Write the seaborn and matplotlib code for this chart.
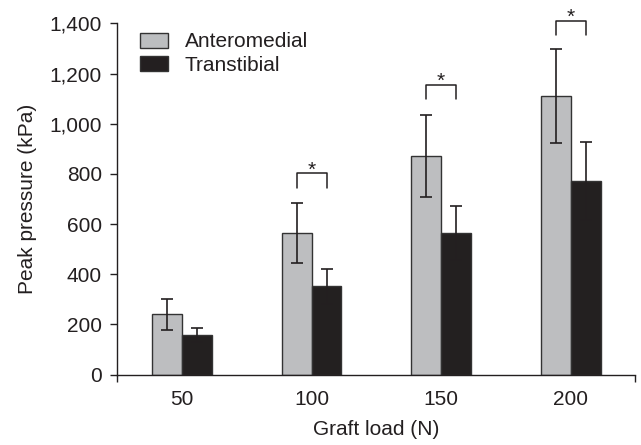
import numpy as np
import pandas as pd
import matplotlib
matplotlib.use('Agg')
import matplotlib.pyplot as plt
import seaborn as sns
from matplotlib.patches import Patch

# data
loads = ['50', '100', '150', '200']
techniques = ['Anteromedial', 'Transtibial']
anteromedial_mean = [240, 566, 871, 1112]
anteromedial_sd = [60, 120, 165, 187]
transtibial_mean = [158, 353, 564, 772]
transtibial_sd = [28, 70, 109, 155]
# significance brackets per load (None = not significant)
bracket_top = [None, 802, 1155, 1410]
bracket_leg = [None, 742, 1097, 1353]
y_ticks = [0, 200, 400, 600, 800, 1000, 1200, 1400]

GRAY = '#bcbec0'
BLACK = '#231f20'
EDGE = '#333333'
FS = 15

sns.set_style('ticks')
plt.rcParams['font.family'] = ['Liberation Sans', 'DejaVu Sans']
plt.rcParams['text.color'] = BLACK
plt.rcParams['axes.labelcolor'] = BLACK
plt.rcParams['xtick.color'] = BLACK
plt.rcParams['ytick.color'] = BLACK

df = pd.DataFrame({
    'load': loads * 2,
    'technique': [techniques[0]] * 4 + [techniques[1]] * 4,
    'pressure': anteromedial_mean + transtibial_mean,
})

fig = plt.figure(figsize=(6.41, 4.45), dpi=100)
ax = fig.add_axes([0.183, 0.158, 0.8084, 0.7896])

sns.barplot(data=df, x='load', y='pressure', hue='technique', order=loads,
            hue_order=techniques, palette=[GRAY, BLACK], width=0.46,
            errorbar=None, edgecolor=EDGE, linewidth=1.0, legend=False, ax=ax)

means = [anteromedial_mean, transtibial_mean]
sds = [anteromedial_sd, transtibial_sd]
centers = []
for cont, m, s in zip(ax.containers, means, sds):
    xs = [b.get_x() + b.get_width() / 2 for b in cont]
    centers.append(xs)
    ax.errorbar(xs, m, yerr=s, fmt='none', ecolor=BLACK, elinewidth=1.2,
                capsize=4.3, capthick=1.2, zorder=5)

# significance brackets
for i, (top, leg) in enumerate(zip(bracket_top, bracket_leg)):
    if top is None:
        continue
    x0, x1 = centers[0][i], centers[1][i]
    ax.plot([x0, x0, x1, x1], [leg, top, top, leg], color=BLACK, lw=1.1,
            clip_on=False)
    ax.text((x0 + x1) / 2, top - 8, '*', ha='center', va='baseline',
            fontsize=FS, clip_on=False)

ax.set_xlim(-0.5, 3.5)
ax.set_ylim(0, 1400)
ax.set_yticks(y_ticks)
ax.set_yticklabels([f'{v:,}' for v in y_ticks])
ax.set_xticks([-0.5, 3.5], minor=True)
ax.tick_params(axis='x', which='major', length=0, pad=11, labelsize=FS)
ax.tick_params(axis='x', which='minor', length=5, width=1.0, direction='out')
ax.tick_params(axis='y', length=5, width=1.0, pad=6, labelsize=FS)
sns.despine(ax=ax)
for sp in ['left', 'bottom']:
    ax.spines[sp].set_linewidth(1.0)
    ax.spines[sp].set_color(BLACK)

ax.set_xlabel('Graft load (N)', fontsize=FS, labelpad=8)
ax.set_ylabel('Peak pressure (kPa)', fontsize=FS, labelpad=9)

handles = [Patch(facecolor=GRAY, edgecolor=EDGE, linewidth=1.0),
           Patch(facecolor=BLACK, edgecolor=EDGE, linewidth=1.0)]
ax.legend(handles, techniques, loc='upper left', bbox_to_anchor=(0.044, 0.974),
          frameon=False, fontsize=FS, borderpad=0, borderaxespad=0,
          handlelength=1.35, handleheight=0.72, handletextpad=0.8,
          labelspacing=0.2)

fig.savefig('out.png', dpi=100)
